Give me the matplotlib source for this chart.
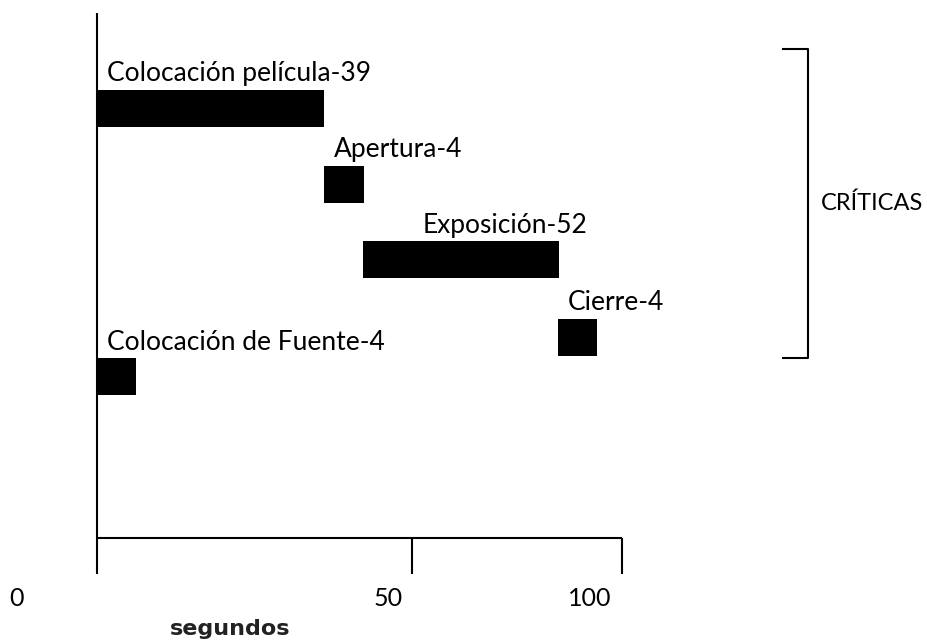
import matplotlib.pyplot as plt

# ------------------------------------------------------------
# DATA
# ------------------------------------------------------------
tasks = [
    "Colocación película",
    "Apertura",
    "Exposición",
    "Cierre",
    "Colocación de Fuente",
]
durations = [39, 4, 52, 4, 4]

# bars as drawn in the original sketch (drawing units, 1 unit ~ 1 px)
bar_start = [0, 227, 266, 461, 0]
bar_length = [227, 40, 196, 39, 39]
row_center = [108, 184, 259, 337, 376]

tick_positions = [0, 315, 525]
tick_labels = ["0", "50", "100"]


def main():
    plt.rcParams["font.family"] = ["Lato", "DejaVu Sans"]

    figure = plt.figure(figsize=(9.27, 6.42), dpi=100)
    axis = figure.add_axes([0, 0, 1, 1])
    axis.set_xlim(-97, 830)
    axis.set_ylim(642, 0)
    axis.axis("off")

    bar_height = 37

    axis.barh(
        row_center,
        bar_length,
        left=bar_start,
        height=bar_height,
        color="black",
    )

    # task labels above each bar
    label_dx = [10, 10, 60, 10, 10]
    for task, dur, x0, yc, dx in zip(tasks, durations, bar_start, row_center, label_dx):
        axis.text(
            x0 + dx,
            yc - bar_height / 2 - 8,
            f"{task}-{dur}",
            fontsize=19,
            ha="left",
            va="baseline",
        )

    # axes drawn by hand
    line_kw = dict(color="black", linewidth=1.5, solid_capstyle="butt")
    axis.plot([0, 0], [13, 574], **line_kw)
    axis.plot([0, tick_positions[-1]], [538, 538], **line_kw)
    for tick in tick_positions[1:]:
        axis.plot([tick, tick], [538, 574], **line_kw)

    label_offsets = [-80, -24, -32]
    for tick, text, off in zip(tick_positions, tick_labels, label_offsets):
        axis.text(tick + off, 598, text, fontsize=18, ha="center", va="center")

    axis.text(
        133, 629, "segundos",
        fontsize=16, fontweight="bold", family="DejaVu Sans",
        ha="center", va="center", color="#222222",
    )

    # bracket for critical tasks
    axis.plot([685, 711, 711, 685], [49, 49, 358, 358], **line_kw)
    axis.text(775, 203, "CRÍTICAS", fontsize=17, ha="center", va="center")

    figure.savefig("out.png", dpi=100)


if __name__ == "__main__":
    main()
